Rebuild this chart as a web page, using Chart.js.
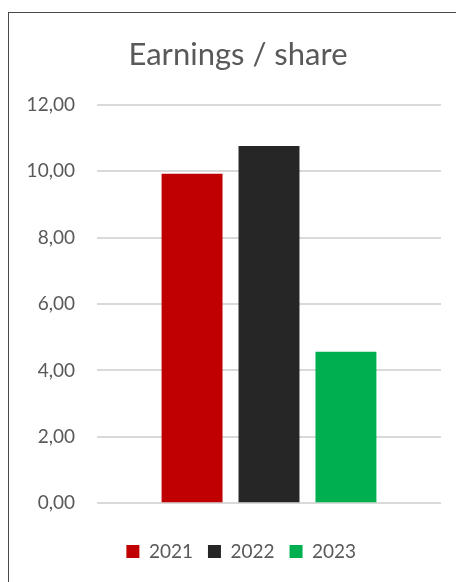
<!DOCTYPE html>
<html>
<head>
<meta charset="utf-8">
<script src="https://cdn.jsdelivr.net/npm/chart.js@4/dist/chart.umd.min.js"></script>
<style>
  html, body { margin: 0; padding: 0; background: #ffffff; overflow: hidden; }
  #frame { position: absolute; left: 8px; top: 12px; width: 520px; height: 640px; border: 1px solid #4a4a4a; box-sizing: border-box; }
  #wrap { position: absolute; left: 0; top: 0; width: 456px; height: 582px; }
</style>
</head>
<body>
<div id="frame"></div>
<div id="wrap"><canvas id="c" width="456" height="582"></canvas></div>
<script>
const titleText = 'Earnings / share';
const categories = [''];
const years = ['2021', '2022', '2023'];
const values = [9.92, 10.76, 4.56];
const colors = ['#c00000', '#262626', '#00b050'];
const tickMin = 0, tickMax = 12, tickStep = 2;

const textColor = '#595959';
const fontFamily = 'Lato, "Open Sans", sans-serif';

const datasets = years.map((y, i) => ({
  label: y,
  data: [values[i]],
  backgroundColor: colors[i],
  borderWidth: 0,
  categoryPercentage: 0.671,
  barPercentage: 0.792
}));

// nudge title and legend horizontally so they sit where the reference has them
const boxShift = {
  id: 'boxShift',
  afterLayout(chart) {
    if (chart.titleBlock) { chart.titleBlock.left += 7.5; chart.titleBlock.right += 7.5; }
    if (chart.legend) { chart.legend.left += 10.75; chart.legend.right += 10.75; }
  }
};

new Chart(document.getElementById('c'), {
  type: 'bar',
  data: { labels: categories, datasets },
  plugins: [boxShift],
  options: {
    responsive: false,
    animation: false,
    layout: { padding: { left: 20, right: 15, top: 0, bottom: 11 } },
    plugins: {
      title: {
        display: true,
        text: titleText,
        color: textColor,
        font: { family: fontFamily, size: 31, weight: 'normal' },
        padding: { top: 36, bottom: 31.5 }
      },
      legend: {
        position: 'bottom',
        labels: {
          color: textColor,
          font: { family: fontFamily, size: 19 },
          boxWidth: 13,
          boxHeight: 13,
          padding: 15
        }
      },
      tooltip: { enabled: false }
    },
    scales: {
      x: {
        display: true,
        ticks: { display: false },
        grid: { display: false, drawTicks: false },
        border: { display: false },
        afterFit: (s) => { s.height = 23.7; }
      },
      y: {
        min: tickMin,
        max: tickMax,
        ticks: {
          stepSize: tickStep,
          color: textColor,
          padding: 22,
          font: { family: fontFamily, size: 19 },
          callback: (v) => Number(v).toFixed(2).replace('.', ',')
        },
        grid: { color: '#d9d9d9', lineWidth: 2, drawTicks: false },
        border: { display: false },
        afterFit: (s) => { s.width = 77; }
      }
    }
  }
});
</script>
</body>
</html>
